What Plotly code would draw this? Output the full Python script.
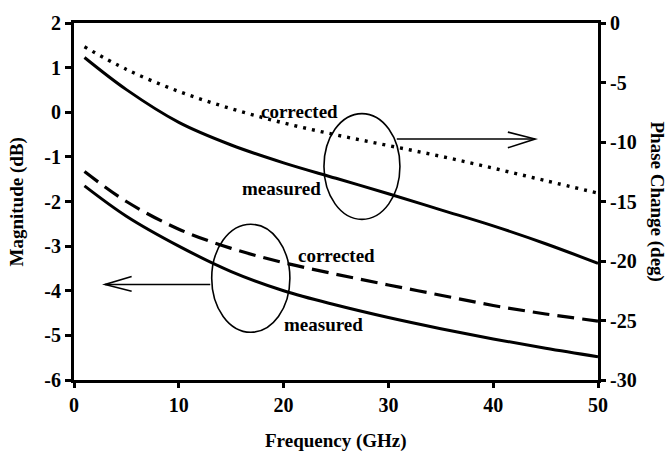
import plotly.graph_objects as go

# Frequency sweep (GHz)
freq_ghz = [1, 5, 10, 15, 20, 25, 30, 35, 40, 45, 50]

# Phase change (deg), right axis
phase_measured = [-2.9, -5.6, -8.35, -10.25, -11.75, -13.05, -14.35, -15.7, -17.05, -18.55, -20.2]
phase_corrected = [-2.0, -3.9, -5.75, -7.2, -8.4, -9.4, -10.3, -11.2, -12.2, -13.25, -14.3]

# Magnitude (dB), left axis
mag_measured = [-1.65, -2.33, -3.0, -3.57, -4.0, -4.32, -4.6, -4.85, -5.08, -5.29, -5.48]
mag_corrected = [-1.33, -2.0, -2.62, -3.05, -3.37, -3.63, -3.87, -4.1, -4.33, -4.52, -4.68]

x_ticks = [0, 10, 20, 30, 40, 50]
mag_ticks = [2, 1, 0, -1, -2, -3, -4, -5, -6]
phase_ticks = [0, -5, -10, -15, -20, -25, -30]

FONT = "Liberation Serif"
BLACK = "#000000"

fig = go.Figure()

fig.add_trace(go.Scatter(x=freq_ghz, y=phase_corrected, yaxis="y2", mode="lines",
                         line=dict(color=BLACK, width=3.4, dash="3px,6px", shape="spline"),
                         name="phase corrected"))
fig.add_trace(go.Scatter(x=freq_ghz, y=phase_measured, yaxis="y2", mode="lines",
                         line=dict(color=BLACK, width=3, shape="spline"),
                         name="phase measured"))
fig.add_trace(go.Scatter(x=freq_ghz, y=mag_corrected, mode="lines",
                         line=dict(color=BLACK, width=3.2, dash="17px,8px", shape="spline"),
                         name="magnitude corrected"))
fig.add_trace(go.Scatter(x=freq_ghz, y=mag_measured, mode="lines",
                         line=dict(color=BLACK, width=3, shape="spline"),
                         name="magnitude measured"))

thin = dict(color=BLACK, width=1.6)
shapes = [
    # ellipse around the phase curves with arrow to the right axis
    dict(type="circle", xref="x", yref="y", x0=23.85, x1=31.1, y0=-2.4, y1=-0.03, line=thin),
    dict(type="line", xref="x", yref="y", x0=30.8, x1=44.0, y0=-0.6, y1=-0.6, line=thin),
    dict(type="path", xref="x", yref="y", path="M 41.4,-0.445 L 44.0,-0.6 L 41.4,-0.797", line=thin),
    # ellipse around the magnitude curves with arrow to the left axis
    dict(type="circle", xref="x", yref="y", x0=13.14, x1=20.6, y0=-4.93, y1=-2.51, line=thin),
    dict(type="line", xref="x", yref="y", x0=13.0, x1=2.96, y0=-3.86, y1=-3.86, line=thin),
    dict(type="path", xref="x", yref="y", path="M 5.5,-3.68 L 2.96,-3.86 L 5.5,-4.01", line=thin),
]

label_font = dict(family=FONT, size=19, color=BLACK, weight="bold")
annotations = [
    dict(x=21.56, y=0.02, xref="x", yref="y", text="corrected", showarrow=False, font=label_font),
    dict(x=19.8, y=-1.70, xref="x", yref="y", text="measured", showarrow=False, font=label_font),
    dict(x=25.07, y=-3.22, xref="x", yref="y", text="corrected", showarrow=False, font=label_font),
    dict(x=23.76, y=-4.75, xref="x", yref="y", text="measured", showarrow=False, font=label_font),
    # axis titles
    dict(x=0.5, y=-0.17, xref="paper", yref="paper", xanchor="center", yanchor="middle",
         text="Frequency (GHz)", showarrow=False, font=label_font),
    dict(x=-0.1088, y=0.5, xref="paper", yref="paper", xanchor="center", yanchor="middle",
         text="Magnitude (dB)", showarrow=False, textangle=-90, font=label_font),
    dict(x=1.1126, y=0.5, xref="paper", yref="paper", xanchor="center", yanchor="middle",
         text="Phase Change (deg)", showarrow=False, textangle=90, font=label_font),
]

tick_font = dict(family=FONT, size=20, color=BLACK, weight="bold")

axis_common = dict(showgrid=False, zeroline=False, showline=True, linecolor=BLACK, linewidth=3,
                   ticks="outside", tickwidth=2.5, tickcolor=BLACK, tickfont=tick_font)

fig.update_layout(
    width=670, height=455,
    margin=dict(l=74, r=72, t=17, b=75),
    paper_bgcolor="white", plot_bgcolor="white",
    showlegend=False,
    shapes=shapes,
    annotations=annotations,
    xaxis=dict(range=[0, 50], tickvals=x_ticks, ticktext=[str(v) for v in x_ticks],
               mirror=True, ticklen=5, **axis_common),
    yaxis=dict(range=[-6, 2], tickvals=mag_ticks, ticktext=[str(v) for v in mag_ticks],
               ticklen=6, **axis_common),
    yaxis2=dict(range=[-30, 0], tickvals=phase_ticks, ticktext=[str(v) for v in phase_ticks],
                overlaying="y", side="right", ticklen=5, **axis_common),
)

fig.write_html("out.html")
